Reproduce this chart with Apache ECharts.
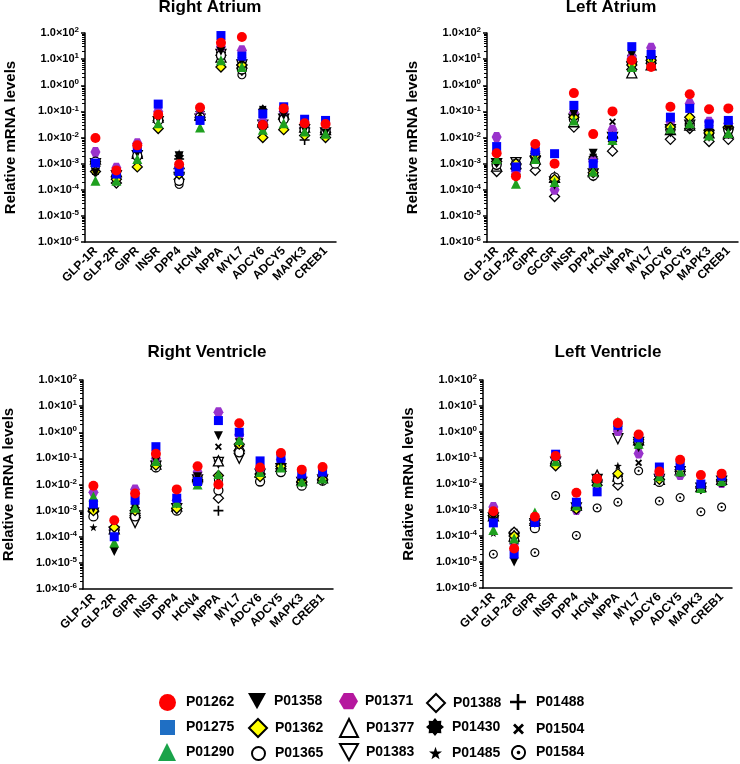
<!DOCTYPE html>
<html><head><meta charset="utf-8">
<script src="https://cdn.jsdelivr.net/npm/echarts@6/dist/echarts.min.js"></script>
<style>html,body{margin:0;padding:0;background:#fff}#c{width:740px;height:764px}</style>
</head><body><div id="c"></div>
<script>
// ---------------- DATA ----------------
const seriesNames = ['P01262','P01275','P01290','P01358','P01362','P01365','P01371','P01377','P01383','P01388','P01430','P01485','P01488','P01504','P01584'];
const categoriesAtriumR = ['GLP-1R','GLP-2R','GIPR','INSR','DPP4','HCN4','NPPA','MYL7','ADCY6','ADCY5','MAPK3','CREB1'];
const categoriesAtriumL = ['GLP-1R','GLP-2R','GIPR','GCGR','INSR','DPP4','HCN4','NPPA','MYL7','ADCY6','ADCY5','MAPK3','CREB1'];
const categoriesVentricle = ['GLP-1R','GLP-2R','GIPR','INSR','DPP4','HCN4','NPPA','MYL7','ADCY6','ADCY5','MAPK3','CREB1'];
const panelTitles = ['Right Atrium','Left Atrium','Right Ventricle','Left Ventricle'];
const tickExponents = [2,1,0,-1,-2,-3,-4,-5,-6];

// Right Atrium (rows follow seriesNames)
const valuesRA = [
 [9.5e-3,5.5e-4,5e-3,0.075,9.5e-4,0.14,42,70,0.03,0.13,0.035,0.033],
 [1.05e-3,4e-4,4e-3,0.19,5e-4,0.045,80,13,0.08,0.15,0.05,0.045],
 [2.2e-4,2.2e-4,1.5e-3,0.035,6e-4,0.024,9,5,0.02,0.035,0.017,0.014],
 [4.5e-4,3e-4,2.5e-3,0.05,2e-3,0.09,20,8,0.025,0.07,0.02,0.015],
 [5e-4,2.5e-4,7.5e-4,0.022,4e-4,0.05,5,6,0.01,0.02,0.012,0.01],
 [1.2e-3,3e-4,2e-3,0.045,2.2e-4,0.06,14,4,0.03,0.05,0.02,0.018],
 [2.8e-3,7e-4,6e-3,0.1,7e-4,0.08,30,22,0.04,0.1,0.025,0.02],
 [1.5e-3,5e-4,2.5e-3,0.06,1e-3,0.07,12,7,0.04,0.08,0.025,0.02],
 [1e-3,3.5e-4,2e-3,0.04,3e-4,0.05,15,6,0.03,0.05,0.02,0.015],
 [1.2e-3,1.8e-4,1.8e-3,0.045,2.5e-4,0.06,14,6,0.03,0.05,0.023,0.016],
 [5e-4,4e-4,3e-3,0.05,2e-3,0.1,22,8,0.12,0.08,0.02,0.017],
 [6e-4,3.5e-4,3e-3,0.06,2.5e-3,0.08,25,10,0.03,0.06,0.022,0.016],
 [8e-4,5e-4,2e-3,0.05,1.5e-3,0.06,18,8,0.025,0.06,0.008,0.015],
 [7e-4,3e-4,2.5e-3,0.05,1e-3,0.07,16,8,0.03,0.07,0.02,0.016],
 [8e-4,3e-4,2e-3,0.045,1.6e-4,0.06,12,2.5,0.025,0.05,0.018,0.015]
];
// Left Atrium
const valuesLA = [
 [2.5e-3,3.3e-4,5.6e-3,1e-3,0.5,0.0135,0.1,9,5,0.15,0.45,0.12,0.13],
 [4.5e-3,7.5e-4,3e-3,2.4e-3,0.17,1e-3,0.011,30,15,0.06,0.13,0.033,0.045],
 [1.5e-3,1.7e-4,1.5e-3,2e-4,0.045,5e-4,0.008,5,7,0.022,0.035,0.012,0.015],
 [1e-3,2.5e-4,2e-3,1.5e-4,0.08,2.5e-3,6e-3,15,10,0.015,0.025,0.02,0.02],
 [1.2e-3,1e-3,2e-3,2.5e-4,0.06,4.5e-4,0.01,6,9,0.025,0.06,0.015,0.025],
 [9e-4,1e-3,1e-3,3e-4,0.05,3.5e-4,0.01,8,8,0.02,0.03,0.015,0.02],
 [0.0105,5e-4,3e-3,1e-4,0.09,1.2e-3,0.02,12,27,0.04,0.2,0.04,0.035],
 [8e-4,1e-3,1.5e-3,3e-4,0.04,5e-4,0.015,3,6,0.02,0.03,0.015,0.015],
 [1e-3,1.1e-3,1.2e-3,2e-4,0.05,4e-4,0.01,5,8,0.02,0.03,0.012,0.015],
 [5e-4,9e-4,5.5e-4,5.5e-5,0.025,3.5e-4,3e-3,4,7,8.5e-3,0.022,7e-3,8.5e-3],
 [6e-4,4e-4,2e-3,2e-4,0.06,1.8e-3,7e-3,14,12,0.02,0.04,0.02,0.02],
 [8e-4,5e-4,2e-3,2.5e-4,0.07,2e-3,8e-3,12,10,0.025,0.04,0.02,0.02],
 [1e-3,6e-4,2.5e-3,2e-4,0.06,1.5e-3,0.01,10,10,0.02,0.035,0.02,0.02],
 [7e-4,7e-4,2e-3,3e-4,0.06,1e-3,0.04,10,9,0.02,0.03,0.018,0.02],
 [9e-4,8e-4,1.2e-3,3e-4,0.05,4e-4,0.009,6,6,0.02,0.03,0.015,0.017]
];
// Right Ventricle
const valuesRV = [
 [9e-3,4.3e-4,4.5e-3,0.15,6.5e-3,0.05,0.01,2.2,0.045,0.16,0.037,0.047],
 [1.8e-3,1e-4,2.5e-3,0.28,3e-3,0.013,2.8,1.0,0.08,0.1,0.025,0.03],
 [3.5e-3,6e-5,1.3e-3,0.08,2e-3,0.01,0.025,0.5,0.03,0.045,0.013,0.017],
 [1.2e-3,2.7e-5,1.5e-3,0.08,1.8e-3,0.02,0.74,0.4,0.03,0.06,0.012,0.02],
 [1e-3,2.3e-4,1e-3,0.055,1.2e-3,0.015,0.022,0.35,0.02,0.05,0.013,0.016],
 [6e-4,1.5e-4,6e-4,0.045,1e-3,0.012,0.006,0.17,0.013,0.03,9e-3,0.014],
 [5e-3,2e-4,6.5e-3,0.1,2.5e-3,0.03,5.8,0.8,0.04,0.09,0.02,0.025],
 [1.5e-3,2e-4,1e-3,0.06,1.5e-3,0.02,0.08,0.3,0.03,0.05,0.015,0.018],
 [8e-4,1.5e-4,3.5e-4,0.05,1.2e-3,0.015,0.07,0.1,0.025,0.04,0.012,0.015],
 [9e-4,1.8e-4,8e-4,0.05,1.2e-3,0.015,0.003,0.2,0.025,0.04,0.012,0.015],
 [1.2e-3,2e-4,1.3e-3,0.08,1.8e-3,0.02,0.08,0.3,0.03,0.05,0.013,0.02],
 [2.3e-4,1.8e-4,1.2e-3,0.06,1.5e-3,0.015,0.1,0.25,0.025,0.05,0.012,0.018],
 [1e-3,2e-4,1e-3,0.06,1.3e-3,0.018,1e-3,0.3,0.025,0.05,0.013,0.02],
 [1e-3,1.5e-4,1e-3,0.06,1.3e-3,0.018,0.28,0.3,0.025,0.05,0.013,0.018],
 [8e-4,1.8e-4,7e-4,0.05,1.1e-3,0.015,0.015,0.2,0.02,0.04,0.011,0.016]
];
// Left Ventricle
const valuesLV = [
 [9e-4,3.3e-5,5.5e-4,0.12,4.6e-3,0.016,2.2,0.8,0.03,0.085,0.022,0.025],
 [3.2e-4,2e-5,3.3e-4,0.14,2e-3,5e-3,1.8,0.6,0.045,0.05,0.01,0.02],
 [1.7e-4,8e-5,8e-4,0.075,1.5e-3,0.012,2.5,0.35,0.02,0.03,7e-3,0.013],
 [5e-4,1e-5,3e-4,0.075,1.5e-3,0.012,1.5,0.25,0.02,0.04,6e-3,0.015],
 [6e-4,1e-4,4e-4,0.05,1.1e-3,9e-3,0.025,0.5,0.015,0.035,8e-3,0.015],
 [5e-4,7e-5,2e-4,0.06,1.2e-3,0.015,0.015,0.4,0.012,0.03,7e-3,0.012],
 [1.3e-3,5e-5,4e-4,0.1,1e-3,0.014,1.1,0.15,0.025,0.022,8e-3,0.011],
 [6e-4,1e-4,4e-4,0.08,1.5e-3,0.022,0.02,0.5,0.015,0.035,8e-3,0.015],
 [5e-4,8e-5,3e-4,0.07,1.2e-3,0.015,0.55,0.4,0.015,0.03,7e-3,0.013],
 [6e-4,1.4e-4,3e-4,0.06,1.2e-3,0.012,0.009,0.4,0.015,0.03,7e-3,0.013],
 [5e-4,1.4e-4,3e-4,0.07,1.5e-3,0.012,0.02,0.3,0.02,0.035,7e-3,0.013],
 [1.3e-4,1e-4,3e-4,0.07,1.3e-3,0.012,0.05,0.3,0.02,0.035,7e-3,0.013],
 [5e-4,1e-4,3e-4,0.07,1.3e-3,0.013,0.02,0.4,0.02,0.035,7e-3,0.013],
 [5e-4,8e-5,3e-4,0.07,1.3e-3,0.013,0.018,0.065,0.02,0.035,7e-3,0.013],
 [2e-5,1e-4,2.3e-5,3.6e-3,1.05e-4,1.2e-3,2e-3,0.032,2.2e-3,3e-3,8.5e-4,1.3e-3]
];

// ---------------- SYMBOLS ----------------
function ptsCircle(cx, cy, r, n, reverse) {
  const a = [];
  for (let k = 0; k < n; k++) {
    const t = (reverse ? -1 : 1) * k / n * Math.PI * 2;
    a.push([cx + r * Math.cos(t), cy + r * Math.sin(t)]);
  }
  return a;
}
function sub(pts) { return pts.map((p, i) => (i ? 'L' : 'M') + p[0].toFixed(2) + ',' + p[1].toFixed(2)).join(' ') + ' Z'; }
function starPts(n, r1, r2) {
  const a = [];
  for (let k = 0; k < 2 * n; k++) {
    const t = -Math.PI / 2 + k * Math.PI / n;
    const r = k % 2 ? r2 : r1;
    a.push([50 + r * Math.cos(t), 50 + r * Math.sin(t)]);
  }
  return a;
}
function crossPts(w, rot) {
  const h = w / 2;
  const base = [[50-h,0],[50+h,0],[50+h,50-h],[100,50-h],[100,50+h],[50+h,50+h],[50+h,100],[50-h,100],[50-h,50+h],[0,50+h],[0,50-h],[50-h,50-h]];
  const c = Math.cos(rot), s = Math.sin(rot);
  return base.map(p => [50 + (p[0]-50)*c - (p[1]-50)*s, 50 + (p[0]-50)*s + (p[1]-50)*c]);
}
const SYM = {
  hex: 'path://' + sub([[25,0],[75,0],[100,43],[75,86],[25,86],[0,43]]),
  invTri: 'path://' + sub([[0,0],[100,0],[50,90]]),
  star8: 'path://' + sub(starPts(8, 50, 36)),
  star5: 'path://' + sub(starPts(5, 50, 20)),
  plus: 'path://' + sub(crossPts(16, 0)),
  cross: 'path://' + sub(crossPts(22, Math.PI / 4)),
  dotRing: 'path://' + sub(ptsCircle(50,50,50,36,false)) + ' ' + sub(ptsCircle(50,50,37,36,true)) + ' ' + sub(ptsCircle(50,50,12,16,false))
};
const W = '#ffffff', K = '#000000';
const styles = [
  {symbol:'circle', size:10, color:'#ff0000', border:null, legend:'#ff0000', lsize:17},
  {symbol:'rect', size:9, color:'#0000ff', border:null, legend:'#1f6fc4', lsize:15},
  {symbol:'triangle', size:10, color:'#1fa01f', border:null, legend:'#1aa34a', lsize:18},
  {symbol:SYM.invTri, size:9, color:K, border:null, lsize:18},
  {symbol:'diamond', size:10, color:'#ffff00', border:K, lsize:18},
  {symbol:'circle', size:9, color:W, border:K, lsize:13},
  {symbol:SYM.hex, size:10, color:'#9933cc', border:null, legend:'#b5179e', lsize:19},
  {symbol:'triangle', size:10, color:W, border:K, lsize:18},
  {symbol:SYM.invTri, size:10, color:W, border:K, lsize:18},
  {symbol:'diamond', size:10, color:W, border:K, lsize:18},
  {symbol:SYM.star8, size:10, color:K, border:null, lsize:18},
  {symbol:SYM.star5, size:8, color:K, border:null, lsize:13},
  {symbol:SYM.plus, size:10, color:K, border:null, lsize:16},
  {symbol:SYM.cross, size:7, color:K, border:null, lsize:11},
  {symbol:SYM.dotRing, size:9, color:K, border:null, lsize:15}
];

// ---------------- LAYOUT ----------------
const panels = [
  {cats: categoriesAtriumR, vals: valuesRA, left: 85, top: 33, width: 251, height: 209, titleX: 210, titleY: -1},
  {cats: categoriesAtriumL, vals: valuesLA, left: 487, top: 33, width: 251, height: 209, titleX: 611, titleY: -1},
  {cats: categoriesVentricle, vals: valuesRV, left: 82, top: 380, width: 251, height: 209, titleX: 207, titleY: 344},
  {cats: categoriesVentricle, vals: valuesLV, left: 483, top: 380, width: 249, height: 208, titleX: 608, titleY: 344}
];
const FONT = '"Liberation Sans", Arial, Helvetica, sans-serif';

const grids = [], xAxes = [], yAxes = [], series = [], graphics = [];
panels.forEach((p, pi) => {
  grids.push({left: p.left, top: p.top, width: p.width, height: p.height, containLabel: false});
  xAxes.push({
    type: 'category', gridIndex: pi, data: p.cats, boundaryGap: true,
    axisLine: {lineStyle: {color: '#000', width: 1.5}},
    axisTick: {alignWithLabel: true, length: 5, lineStyle: {color: '#000', width: 1.5}},
    axisLabel: {interval: 0, rotate: 45, color: '#000', fontWeight: 'bold', fontSize: 12, fontFamily: FONT, margin: 7},
    splitLine: {show: false}
  });
  yAxes.push({
    type: 'log', logBase: 10, gridIndex: pi, min: 1e-6, max: 100, splitNumber: 8,
    name: 'Relative mRNA levels', nameLocation: 'middle', nameGap: 67,
    nameTextStyle: {color: '#000', fontWeight: 'bold', fontSize: 15, fontFamily: FONT},
    axisLine: {show: true, lineStyle: {color: '#000', width: 1.5}},
    axisTick: {show: true, length: 4, lineStyle: {color: '#000', width: 1.5}},
    minorTick: {show: true, splitNumber: 9, length: 3, lineStyle: {color: '#000', width: 1}},
    splitLine: {show: false},
    axisLabel: {
      margin: 6, color: '#000', fontFamily: FONT,
      formatter: function (v) {
        const e = Math.round(Math.log10(v));
        return '{b|1.0×10}{s|' + e + '}';
      },
      rich: {
        b: {fontWeight: 'bold', fontSize: 11, fontFamily: FONT, color: '#000', lineHeight: 14},
        s: {fontWeight: 'bold', fontSize: 8, fontFamily: FONT, color: '#000', verticalAlign: 'top', lineHeight: 14, padding: [0,0,6,0]}
      }
    }
  });
  seriesNames.forEach((nm, si) => {
    const st = styles[si];
    series.push({
      type: 'scatter', name: nm, xAxisIndex: pi, yAxisIndex: pi,
      data: p.vals[si],
      symbol: st.symbol, symbolSize: st.size,
      itemStyle: {color: st.color, borderColor: st.border || st.color, borderWidth: st.border ? 1.3 : 0, opacity: 1},
      z: 40 - si, silent: true, animation: false,
      emphasis: {disabled: true}
    });
  });
  graphics.push({type: 'text', x: p.titleX, y: p.titleY, style: {text: panelTitles[pi], font: 'bold 17px ' + FONT, fill: '#000', align: 'center', verticalAlign: 'top'}});
});

// legend: 5 columns x 3 rows, one legend component per entry
const legendIconCenters = [167, 257, 348, 435, 518];
const legendTextStarts = [186, 274, 365, 452, 536];
const legendRowCenters = [702, 727, 752];
const legends = seriesNames.map((nm, i) => {
  const col = Math.floor(i / 3), row = i % 3;
  const s = styles[i].lsize;
  const d = {name: nm};
  if (styles[i].legend) d.itemStyle = {color: styles[i].legend, borderColor: styles[i].legend};
  const left = Math.round(legendIconCenters[col] - s / 2);
  const pad = Math.max(0, legendTextStarts[col] - (left + s) - 5);
  return {
    orient: 'horizontal', left: left, top: Math.round(legendRowCenters[row] - s / 2),
    itemWidth: s, itemHeight: s, selectedMode: false, padding: 0,
    textStyle: {color: '#000', fontWeight: 'bold', fontSize: 14, fontFamily: FONT, padding: [0,0,0,pad]},
    data: [d]
  };
});

const chart = echarts.init(document.getElementById('c'), null, {renderer: 'canvas'});
chart.setOption({
  animation: false, backgroundColor: '#fff',
  grid: grids, xAxis: xAxes, yAxis: yAxes, series: series, legend: legends, graphic: graphics
});
</script></body></html>
